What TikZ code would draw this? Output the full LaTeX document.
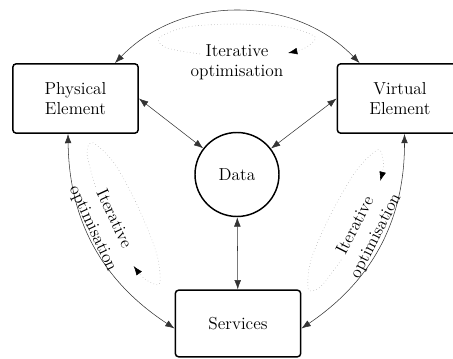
\documentclass[tikz,border=0pt]{standalone}
\usepackage{fontspec}
\usepackage{tikz}
\usetikzlibrary{arrows.meta, calc}

\tikzset{
    elem/.style={draw, line width=1.1pt, rounded corners=2.5pt, minimum width=94pt,
        minimum height=52pt, align=center, font=\fontsize{13}{15}\selectfont},
    datacirc/.style={draw, circle, line width=1.1pt, minimum size=63pt, inner sep=0pt,
        font=\fontsize{13}{15}\selectfont},
    link/.style={<->, thin, black!80},
    iterlbl/.style={align=center, transform shape, font=\fontsize{13}{15}\selectfont},
    iterloop/.style={-{Latex[length=7pt,width=5pt,color=black]}, dotted, gray!70, thin}
}

\begin{document}
\begin{tikzpicture}[>={Latex[length=7pt,width=5pt]}, x=0.75pt, y=-0.75pt] % coordinate in pixel
        % Area del disegno
        \useasboundingbox (0,0) rectangle (453,359);
        \clip (0,0) rectangle (453,359);
        
        % Blocchi principali
        \node[elem] (phys) at (75.5,98.5) {Physical\\Element};
        \node[elem] (virt) at (400,98.5) {Virtual\\Element};
        \node[elem, minimum height=50pt] (serv) at (238,323.5) {Services};
        \node[datacirc] (data) at (237,174.5) {Data};
        
        % Collegamenti al centro
        \draw[link] (phys.east) -- (data);
        \draw[link] (virt.west) -- (data);
        \draw[link] (data) -- (serv);
        
        % Archi esterni
        \draw[link] ($(phys.north east)+(-24,0)$) to[bend left=46] ($(virt.north west)+(23,0)$);
        \draw[link] ($(phys.south)+(-7.5,0)$) to[bend right=28] ($(serv.west)+(0,5)$);
        \draw[link] ($(virt.south)+(4.5,0)$) to[bend left=28] ($(serv.east)+(0,5)$);
        
        % Ottimizzazione iterativa (in alto)
        \begin{scope}[shift={(237,62)}]
            \node[iterlbl] (iterTop) at (0,0) {Iterative\\optimisation};
            \draw[iterloop] plot[smooth] coordinates {(-37,-8) (-70,-14) (-78,-24) (-50,-35)
                (0,-38) (50,-35) (78,-25) (68,-14) (51,-9)};
        \end{scope}
        
        % Ottimizzazione iterativa (a sinistra)
        \begin{scope}[shift={(103,224)}, rotate=-65]
            \node[iterlbl, font=\fontsize{13}{17}\selectfont] (iterLeft) at (0,0) {Iterative\\optimisation};
            \draw[iterloop] plot[smooth] coordinates {(-37,-9) (-70,-15) (-78,-25) (-50,-36)
                (0,-39) (50,-36) (78,-26) (68,-15) (51,-10)};
        \end{scope}
        
        % Ottimizzazione iterativa (a destra)
        \begin{scope}[shift={(366,231)}, rotate=63]
            \node[iterlbl, font=\fontsize{13}{17}\selectfont] (iterRight) at (0,0) {Iterative\\optimisation};
            \draw[iterloop] plot[smooth] coordinates {(-37,-9) (-70,-15) (-78,-25) (-50,-36)
                (0,-39) (50,-36) (78,-26) (68,-15) (51,-10)};
        \end{scope}
        
    \end{tikzpicture}
\end{document}
